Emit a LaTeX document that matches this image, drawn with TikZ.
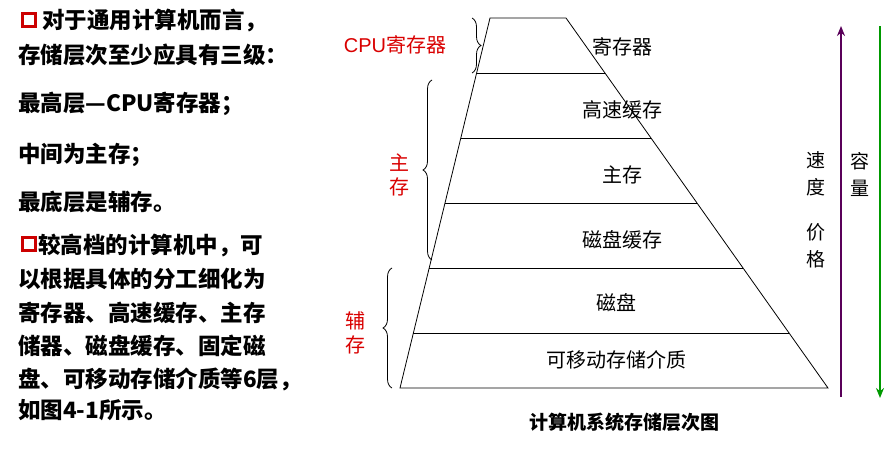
\documentclass[tikz,border=0pt]{standalone}
\usepackage{fontspec}
\setmainfont{Liberation Sans}
\newfontfamily\cjk{Noto Sans CJK SC}
\usepackage{tikz}
\usetikzlibrary{positioning,decorations.pathreplacing,arrows.meta}

\begin{document}
\begin{tikzpicture}
  [
    x=1pt, y=-1pt,
    Txt/.style={anchor=west, inner sep=0pt, font=\cjk\bfseries\fontsize{22.5}{22.5}\selectfont},
    Box/.style={draw=red!80!black, line width=2.5pt, minimum size=13pt, inner sep=0pt},
    Lvl/.style={font=\cjk\fontsize{20}{20}\selectfont},
    Red/.style={text=red!85!black, font=\cjk\fontsize{20}{24}\selectfont, align=center},
    Brace/.style={decorate, decoration={brace, amplitude=9pt}, thick},
    Side/.style={font=\cjk\fontsize{19}{27}\selectfont, align=center}
  ]
  \useasboundingbox (0,0) rectangle (894,450);
  % Left text
  \node[Box] (b1) at (29,20) {};
  \node[Txt] (t1) at (42,21) {对于通用计算机而言，};
  \node[Txt] (t2) at (18,55) {存储层次至少应具有三级：};
  \node[Txt] (t3) at (18,104) {最高层—CPU寄存器；};
  \node[Txt] (t4) at (18,155) {中间为主存；};
  \node[Txt] (t5) at (18,202) {最底层是辅存。};
  \node[Box] (b2) at (29,244) {};
  \node[Txt] (t6) at (38,245) {较高档的计算机中，可};
  \node[Txt] (t7) at (18,279) {以根据具体的分工细化为};
  \node[Txt] (t8) at (18,313) {寄存器、高速缓存、主存};
  \node[Txt] (t9) at (18,346) {储器、磁盘缓存、固定磁};
  \node[Txt] (t10) at (18,379) {盘、可移动存储介质等6层，};
  \node[Txt] (t11) at (18,410) {如图4-1所示。};

  % Pyramid
  \coordinate (l0) at (490,18);  \coordinate (r0) at (566,18);
  \coordinate (l1) at (476.6,73); \coordinate (r1) at (605,73);
  \coordinate (l2) at (460.8,138); \coordinate (r2) at (651,138);
  \coordinate (l3) at (445,203); \coordinate (r3) at (697,203);
  \coordinate (l4) at (429.2,268); \coordinate (r4) at (743,268);
  \coordinate (l5) at (413.4,333); \coordinate (r5) at (789,333);
  \coordinate (l6) at (400,388); \coordinate (r6) at (828,388);
  \draw[thick] (l0) -- (r0) -- (r6) -- (l6) -- cycle;
  \foreach \i in {1,...,5} \draw[thick] (l\i) -- (r\i);
  \node[Lvl] (p1) at (622,47) {寄存器};
  \node[Lvl] (p2) at (622,110) {高速缓存};
  \node[Lvl] (p3) at (622,175) {主存};
  \node[Lvl] (p4) at (622,240) {磁盘缓存};
  \node[Lvl] (p5) at (616,303) {磁盘};
  \node[Lvl] (p6) at (616,360) {可移动存储介质};

  % Braces
  \coordinate (c1) at (472,18); \coordinate (c2) at (472,73);
  \draw[Brace] (c1) -- (c2);
  \node[Red, font=\fontsize{20}{22}\selectfont] (cpu) at (395,45) {CPU\cjk 寄存器};
  \coordinate (m1) at (432,260); \coordinate (m2) at (432,80);
  \draw[Brace] (m1) -- (m2);
  \node[Red] (zc) at (399,175) {主\\存};
  \coordinate (f1) at (392,388); \coordinate (f2) at (392,268);
  \draw[Brace] (f1) -- (f2);
  \node[Red] (fc) at (355,333) {辅\\存};

  % Arrows
  \coordinate (a1) at (841,397); \coordinate (a2) at (841,26);
  \draw[-{Stealth[length=10pt,width=8pt]}, line width=2pt, violet!70!black] (a1) -- (a2);
  \coordinate (g1) at (880,26); \coordinate (g2) at (880,398);
  \draw[-{Stealth[length=10pt,width=8pt]}, line width=2pt, green!60!black] (g1) -- (g2);
  \node[Side] (sd) at (816,174) {速\\度};
  \node[Side] (jg) at (816,246) {价\\格};
  \node[Side] (rl) at (860,174) {容\\量};

  % Caption
  \node[font=\cjk\bfseries\fontsize{19}{19}\selectfont] (cap) at (624,422) {计算机系统存储层次图};
\end{tikzpicture}
\end{document}
